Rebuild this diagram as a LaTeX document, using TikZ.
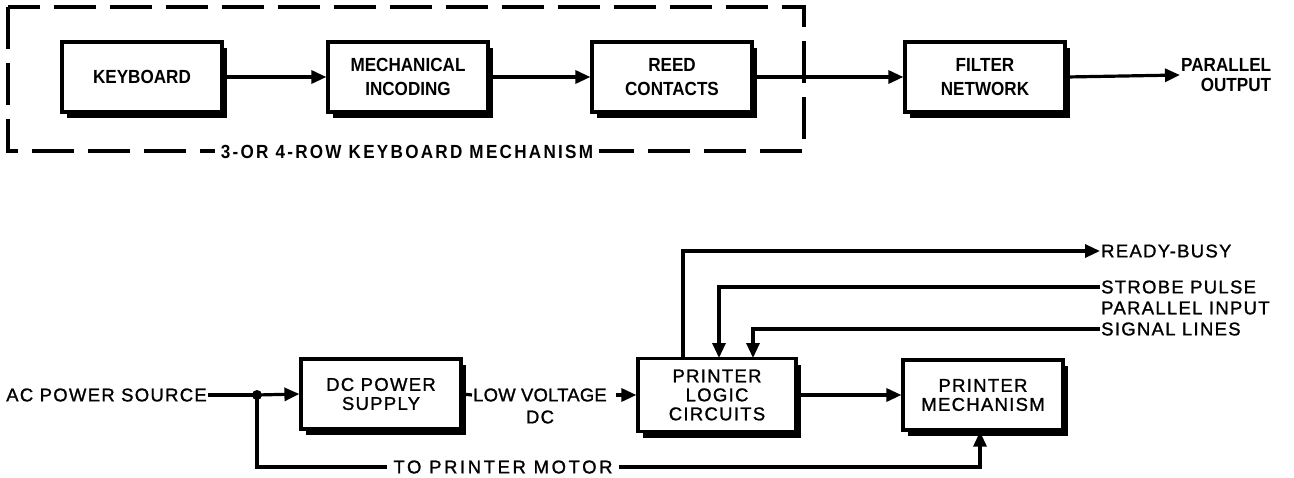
\documentclass[tikz,border=0pt]{standalone}
\usepackage{fontspec}
\setmainfont{Liberation Sans}
\usetikzlibrary{arrows.meta,shadows}
\tikzset{
  blk/.style={draw, line width=3.2pt, minimum width=160pt, minimum height=70pt, fill=white, align=center,
    drop shadow={shadow xshift=5pt, shadow yshift=-6pt, fill=black, opacity=1}},
  topblk/.style={blk, font=\fontsize{19}{24}\selectfont\bfseries\addfontfeatures{FakeStretch=0.9}},
  botblk/.style={blk, font=\fontsize{18.5}{19}\selectfont\addfontfeatures{LetterSpace=7,FakeBold=1.2}},
  wire/.style={line width=3.2pt},
  arr/.style={wire, -{Triangle[length=15pt,width=13pt]}},
  lbl/.style={inner sep=1pt, font=\fontsize{18.5}{22}\selectfont\addfontfeatures{LetterSpace=7,FakeBold=1.2}},
  toplbl/.style={inner sep=1pt, font=\fontsize{19}{20}\selectfont\bfseries\addfontfeatures{FakeStretch=0.9}},
  dashbox/.style={line width=3.2pt, dash pattern=on 42pt off 14pt},
}
\begin{document}
\begin{tikzpicture}[x=1pt,y=-1pt]
\useasboundingbox (0,0) rectangle (1294,477);
% dashed frame
\draw[dashbox] (8,7) rectangle (804,151);
\node[fill=white, inner xsep=6pt, inner ysep=1pt, font=\fontsize{19}{20}\selectfont\bfseries\addfontfeatures{FakeStretch=0.9,LetterSpace=12}] (frm) at (407,152) {3-OR 4-ROW KEYBOARD MECHANISM};
% top row
\node[topblk] (kb) at (142,77) {KEYBOARD};
\node[topblk] (mi) at (408,77) {MECHANICAL\\INCODING};
\node[topblk] (rc) at (672,77) {REED\\CONTACTS};
\node[topblk] (fn) at (985,77) {FILTER\\NETWORK};
\node[toplbl, align=right, anchor=west] (po) at (1180,75) {PARALLEL\\OUTPUT};
\draw[arr] (kb.east) -- (mi.west);
\draw[arr] (mi.east) -- (rc.west);
\draw[arr] (rc.east) -- (fn.west);
\draw[arr] (fn.east) -- (po.west);
% bottom row
\node[botblk] (dc) at (381,394) {DC POWER\\SUPPLY};
\node[botblk, minimum width=158pt, minimum height=73pt] (plc) at (717,395) {PRINTER\\LOGIC\\CIRCUITS};
\node[botblk] (pm) at (983,395) {PRINTER\\MECHANISM};
\node[lbl, anchor=east] (ac) at (208,395) {AC POWER SOURCE};
\coordinate (j) at (257,395);
\fill (j) circle (5pt);
\draw[wire] (ac.east) -- (j);
\draw[arr] (j) -- (dc.west);
\node[lbl, anchor=west, font=\fontsize{18.5}{22}\selectfont\addfontfeatures{LetterSpace=1,FakeBold=1.2}] (lv) at (472,395) {LOW VOLTAGE};
\node[lbl] (lvdc) at (540,417) {DC};
\draw[wire] (dc.east) -- (lv.west);
\draw[arr] ([xshift=8pt]lv.east) -- (plc.west);
\draw[arr] (plc.east) -- (pm.west);
% motor line
\node[lbl, inner xsep=6pt, font=\fontsize{18.5}{22}\selectfont\addfontfeatures{LetterSpace=14,FakeBold=1.2}] (mot) at (503,467) {TO PRINTER MOTOR};
\draw[wire] (j) |- (mot.west);
\draw[arr] (mot.east) -| ([xshift=-3pt]pm.south);
% signals
\node[lbl, anchor=west] (rb) at (1100,251) {READY-BUSY};
\node[lbl, anchor=west] (sp) at (1100,287) {STROBE PULSE};
\node[lbl, anchor=west] (pi) at (1100,308) {PARALLEL INPUT};
\node[lbl, anchor=west] (sl) at (1100,329) {SIGNAL LINES};
\coordinate (rbx) at (683,358);
\coordinate (spx) at (719,358);
\coordinate (slx) at (753,358);
\draw[arr] (rbx) |- (rb.west);
\draw[arr] (sp.west) -| (spx);
\draw[arr] (sl.west) -| (slx);
\end{tikzpicture}
\end{document}
